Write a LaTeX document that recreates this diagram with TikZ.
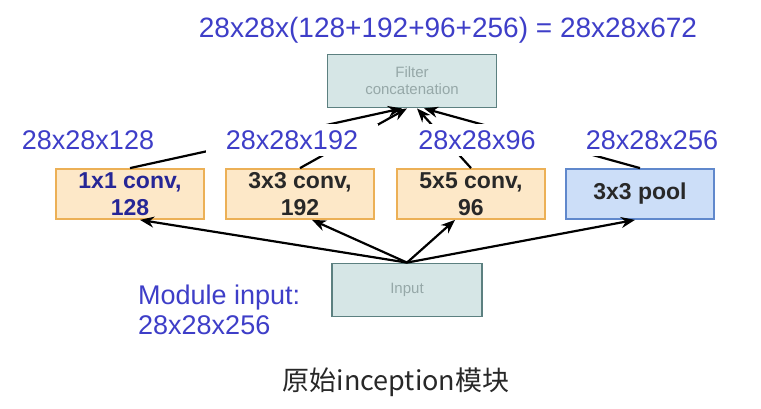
\documentclass[tikz,border=0pt]{standalone}
\usepackage{fontspec}
\setmainfont{Liberation Sans}
\newfontfamily\cjk{Noto Sans CJK SC}
\usetikzlibrary{arrows.meta}
\definecolor{dimblue}{RGB}{62,62,200}
\definecolor{boxblue}{RGB}{38,38,150}
\definecolor{boxtext}{RGB}{40,40,40}
\definecolor{convfill}{RGB}{253,232,200}
\definecolor{convline}{RGB}{236,176,86}
\definecolor{poolfill}{RGB}{204,222,248}
\definecolor{poolline}{RGB}{96,136,204}
\definecolor{tealfill}{RGB}{214,230,230}
\definecolor{tealline}{RGB}{92,128,128}
\definecolor{tealtext}{RGB}{150,168,168}
\tikzset{
  dimlabel/.style={fill=white,text=dimblue,font=\fontsize{27}{30}\selectfont,minimum width=172pt,inner ysep=6pt},
  layerbox/.style={draw=convline,fill=convfill,line width=1.8pt,minimum width=148pt,minimum height=50pt,
    align=center,text=boxtext,font=\bfseries\fontsize{23}{27}\selectfont},
  greybox/.style={draw=tealline,fill=tealfill,line width=1.8pt,minimum width=150pt,minimum height=53pt,
    align=center,text=tealtext,font=\fontsize{15}{17}\selectfont},
  feed/.style={-{Stealth[length=14pt,width=11pt]},line width=2.2pt}
}
\begin{document}
\begin{tikzpicture}[x=1pt,y=-1pt]
\useasboundingbox[fill=white] (0,0) rectangle (761,409);

\node[text=dimblue,font=\fontsize{28}{30}\selectfont] (total) at (448,30) {28x28x(128+192+96+256) = 28x28x672};
\node[greybox,minimum width=169pt] (concat) at (412,81) {Filter\\concatenation};

\node[layerbox,text=boxblue] (conv1) at (130,194) {1x1 conv,\\128};
\node[layerbox] (conv3) at (300,194) {3x3 conv,\\192};
\node[layerbox] (conv5) at (471,194) {5x5 conv,\\96};
\node[layerbox,draw=poolline,fill=poolfill] (pool) at (640,194) {3x3 pool};

\foreach \b/\s in {conv1/-10,conv3/-5,conv5/5,pool/12}
  \draw[feed] (\b.north) -- ([xshift=\s pt]concat.south);

\node[dimlabel] (out1) at (88,140) {28x28x128};
\node[dimlabel] (out3) at (292,140) {28x28x192};
\node[dimlabel] (out5) at (477,140) {28x28x96};
\node[dimlabel,minimum width=190pt] (outp) at (652,140) {28x28x256};

\node[greybox] (input) at (407,290) {Input};
\draw[feed] (input.north) -- ([xshift=10pt]conv1.south);
\draw[feed] (input.north) -- ([xshift=12pt]conv3.south);
\draw[feed] (input.north) -- ([xshift=-16pt]conv5.south);
\draw[feed] (input.north) -- ([xshift=-5pt]pool.south);

\node[anchor=west,inner sep=0pt,align=left,text=dimblue,font=\fontsize{27}{30}\selectfont] (modin) at (138,310) {Module input:\\28x28x256};
\node[text=boxtext,font=\cjk\fontsize{27}{30}\selectfont] (caption) at (396,382) {原始inception模块};
\end{tikzpicture}
\end{document}
